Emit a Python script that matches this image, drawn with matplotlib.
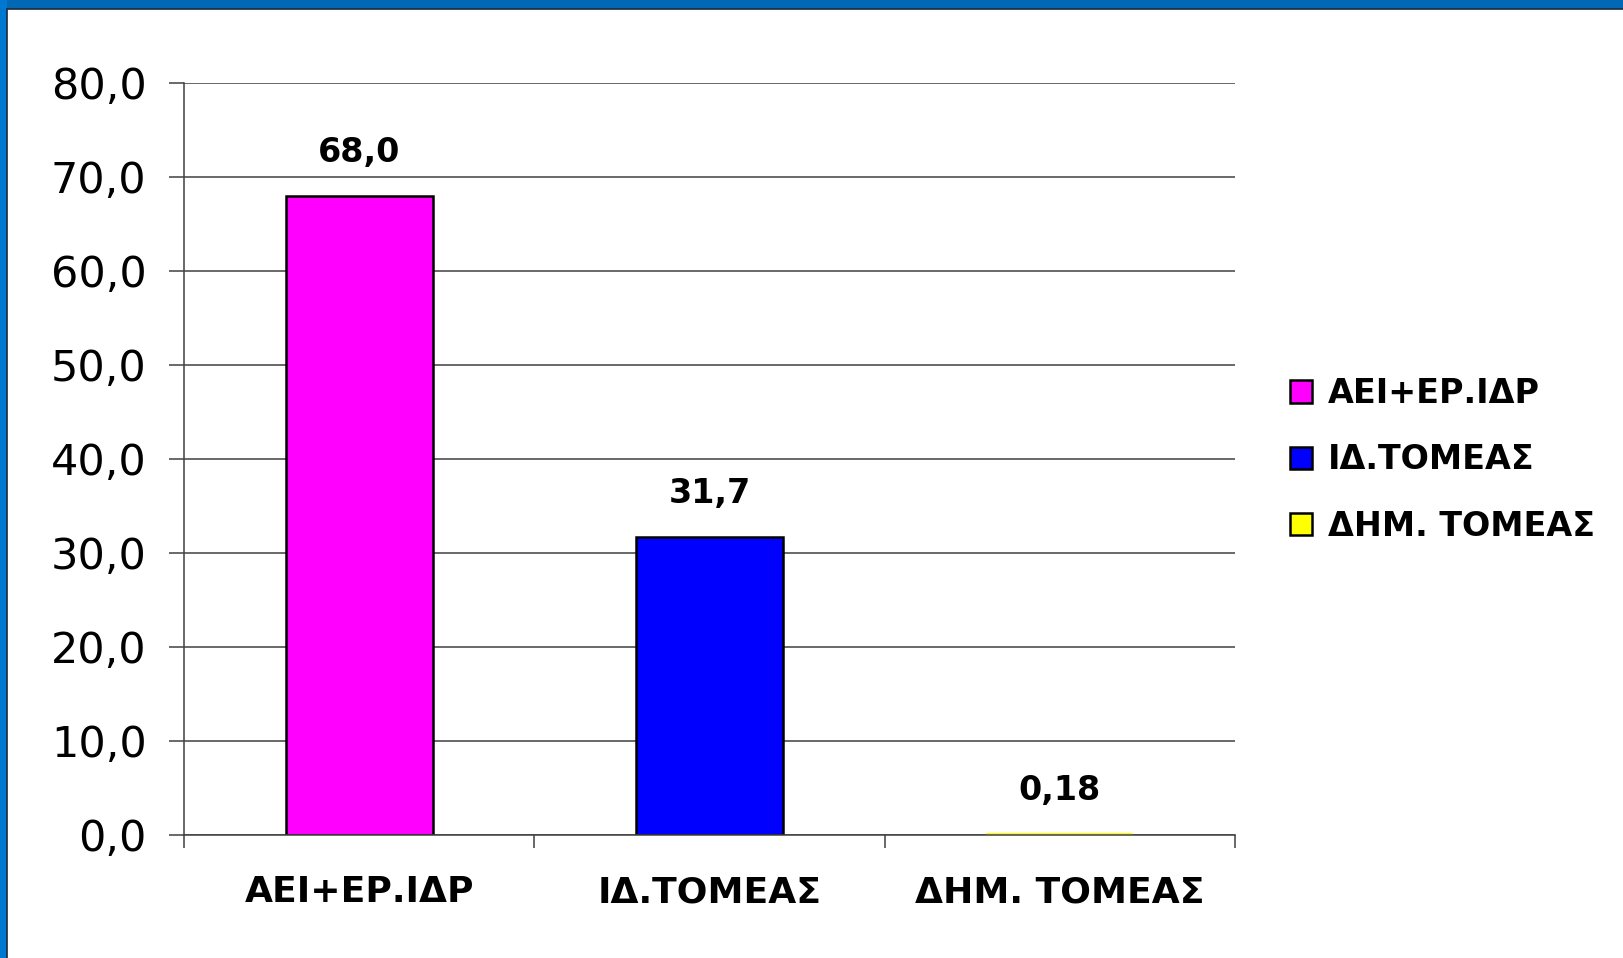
import matplotlib
matplotlib.use("Agg")
import matplotlib.pyplot as plt
from matplotlib.patches import Rectangle

# data
categories = ["ΑΕΙ+ΕΡ.ΙΔΡ", "ΙΔ.ΤΟΜΕΑΣ", "ΔΗΜ. ΤΟΜΕΑΣ"]
values = [68.0, 31.7, 0.18]
colors = ["#FF00FF", "#0000FF", "#FFFF00"]
yticks = [0, 10, 20, 30, 40, 50, 60, 70, 80]


def fmt(v):
    s = f"{v:.1f}" if v >= 1 else f"{v:.2f}"
    return s.replace(".", ",")


W, H = 1623, 958
fig = plt.figure(figsize=(W / 100, H / 100), dpi=100)
fig.patch.set_facecolor("white")

# blue frame (top + left) with dark inner edge
fig.patches.append(Rectangle((0, 1 - 10 / H), 1, 10 / H, transform=fig.transFigure,
                             facecolor="#0068B4", edgecolor="none", zorder=-10))
fig.patches.append(Rectangle((0, 0), 7 / W, 1, transform=fig.transFigure,
                             facecolor="#0078D2", edgecolor="none", zorder=-10))
fig.patches.append(Rectangle((7 / W, -0.01), 1, 1 - 9 / H + 0.01, transform=fig.transFigure,
                             facecolor="white", edgecolor="#1a2a3a", linewidth=1.2, zorder=-9))

ax = fig.add_axes([184 / W, 1 - 835 / H, (1235 - 184) / W, (835 - 83) / H])
ax.set_facecolor("none")
ax.set_zorder(5)

x = range(len(categories))
bars = ax.bar(x, values, width=0.42, color=colors, edgecolor="black", linewidth=1.8,
              label=categories, zorder=1)
# tiny bar is practically invisible in the original
for b, v in zip(bars, values):
    if v < 1:
        b.set_linewidth(0)

for xi, v in zip(x, values):
    ax.annotate(fmt(v), (xi, v), xytext=(0, 31), textcoords="offset points",
                ha="center", va="center", fontsize=24, fontweight="bold",
                family="DejaVu Sans")

ax.set_xlim(-0.5, 2.5)
ax.set_ylim(0, 80)
ax.set_yticks(yticks)
ax.set_yticklabels([f"{t:.1f}".replace(".", ",") for t in yticks],
                   fontsize=31, family="DejaVu Sans")
ax.yaxis.grid(True, color="#404040", linewidth=1.1, zorder=0)
ax.set_axisbelow(True)
ax.tick_params(axis="y", length=11, width=1.1, color="#404040", pad=16)

ax.set_xticks(list(x))
ax.set_xticklabels(categories, fontsize=26, fontweight="bold", family="DejaVu Sans")
ax.set_xticks([-0.5, 0.5, 1.5, 2.5], minor=True)
ax.tick_params(axis="x", which="major", length=0, pad=29)
ax.tick_params(axis="x", which="minor", length=9, width=1.1, color="#404040")

for s in ["top", "right"]:
    ax.spines[s].set_visible(False)
for s in ["left", "bottom"]:
    ax.spines[s].set_color("#404040")
    ax.spines[s].set_linewidth(1.1)

leg = fig.legend(handles=list(bars), labels=categories, loc="center left",
                 bbox_to_anchor=(1290 / W, 1 - 460 / H), frameon=False,
                 prop={"family": "DejaVu Sans", "weight": "bold", "size": 24},
                 handlelength=0.65, handleheight=0.65, handletextpad=0.5,
                 labelspacing=1.0, borderpad=0, borderaxespad=0)
for h in leg.legend_handles:
    h.set_linewidth(1.8)
    h.set_edgecolor("black")

fig.savefig("out.png", dpi=100)
